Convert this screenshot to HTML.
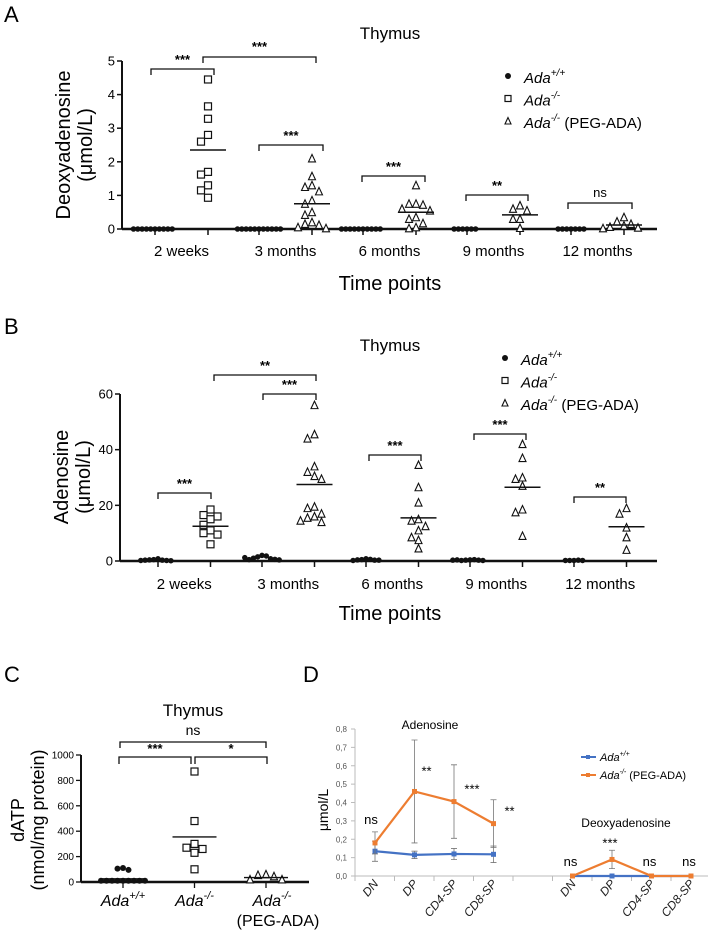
<!DOCTYPE html>
<html><head><meta charset="utf-8"><style>
body{margin:0;background:#fff;}
svg{display:block;font-family:"Liberation Sans",Arial,sans-serif;}
</style></head><body>
<svg id="fig" width="708" height="934" viewBox="0 0 708 934" xmlns="http://www.w3.org/2000/svg"></svg>
<script>
// ---------- Panel A data ----------
const groupsA = ["2 weeks","3 months","6 months","9 months","12 months"];
const wtA = [[0,0,0,0,0,0,0,0,0,0],[0,0,0,0,0,0,0,0,0,0,0],[0,0,0,0,0,0,0,0,0,0],[0,0,0,0,0,0],[0,0,0,0,0,0,0]];
const koA = [4.45,3.65,3.28,2.8,2.6,1.7,1.62,1.3,1.15,0.93];
const pegA = [[],[2.1,1.57,1.3,1.25,1.12,0.85,0.75,0.5,0.42,0.2,0.15,0.12,0.05,0.02],[1.3,0.75,0.75,0.72,0.6,0.55,0.35,0.3,0.17,0.05,0.02],[0.7,0.6,0.55,0.3,0.3,0.03],[0.35,0.22,0.15,0.1,0.06,0.04,0.02]];
const koMeanA = 2.35;
const pegMeanA = [null,0.75,0.5,0.42,0.12];
const ticksA = [0,1,2,3,4,5];
// ---------- Panel B data ----------
const groupsB = ["2 weeks","3 months","6 months","9 months","12 months"];
const wtB = [[0.8,0.5,0.3,0.4,0.2,0.3,0.1,0.2],[2,1.5,1.8,1,0.8,0.5,0.6,1.2,0.4],[0.8,0.5,0.6,0.4,0.3,0.2,0.3],[0.4,0.3,0.5,0.2,0.3,0.4,0.2,0.3],[0.2,0.2,0.3,0.2,0.2]];
const koB = [18.5,16.5,16,15,13,11,10,9.5,6];
const pegB = [[],[56,45.5,44,34,32,30.5,29.5,19.5,19,17,16,15.5,14.5,14],[34.5,26.5,21,15,14.5,12.5,11,8.5,7.5,4.5],[42,37,30,29.5,27,18.5,17.5,9],[19,17,12,8.5,4]];
const koMeanB = 12.5;
const pegMeanB = [null,27.5,15.5,26.5,12.3];
const ticksB = [0,20,40,60];
// ---------- Panel C data ----------
const catsC = ["Ada+/+","Ada-/-","Ada-/- (PEG-ADA)"];
const wtC = [110,105,95,10,10,10,10,10,10,10,10,10];
const koC = [870,480,300,270,260,230,100];
const pegC = [60,55,45,20,20];
const meansC = [25,355,35];
const ticksC = [0,200,400,600,800,1000];
// ---------- Panel D data ----------
const catsD = ["DN","DP","CD4-SP","CD8-SP"];
const adoWT = [0.135,0.115,0.12,0.118];
const adoWTerr = [0.055,0.02,0.03,0.045];
const adoPEG = [0.18,0.46,0.405,0.285];
const adoPEGerr = [0.06,0.28,0.2,0.13];
const dadoWT = [0,0,0,0];
const dadoPEG = [0,0.09,0,0];
const dadoPEGerr = [0,0.05,0,0];
const adoSig = ["ns","**","***","**"];
const dadoSig = ["ns","***","ns","ns"];
const ticksD = [0,0.1,0.2,0.3,0.4,0.5,0.6,0.7,0.8];

const NS="http://www.w3.org/2000/svg";
const svg=document.getElementById('fig');
function mk(tag,attrs,parent,text){const e=document.createElementNS(NS,tag);for(const k in attrs)e.setAttribute(k,attrs[k]);if(text!==undefined)e.textContent=text;(parent||svg).appendChild(e);return e;}
function grp(name){const g=mk('g',{});return g;}

function swarm(vals,cx,yf,d,sp){const placed=[];const xs=[];const offs=[0,-1,1,-2,2,-3,3,-4,4,-5,5,-6,6];
 vals.forEach(v=>{const y=yf(v);for(const o of offs){const x=cx+o*sp;if(!placed.some(p=>Math.abs(p[0]-x)<sp*0.9&&Math.abs(p[1]-y)<d*0.9)){placed.push([x,y]);xs.push([x,y]);break;}}});return xs;}
function marker(type,x,y,s,g,color){
 if(type==='c')return mk('circle',{cx:x,cy:y,r:s/2,fill:color||'#111'},g);
 if(type==='s')return mk('rect',{x:x-s/2,y:y-s/2,width:s,height:s,fill:'#fff',stroke:'#111','stroke-width':1.2},g);
 return mk('polygon',{points:`${x},${y-s/2-0.5} ${x-s/2},${y+s/2} ${x+s/2},${y+s/2}`,fill:'#fff',stroke:'#111','stroke-width':1.1},g);}
function bracket(x1,x2,y,h,label,ly,g,fs){mk('path',{d:`M${x1},${y+h}V${y}H${x2}V${y+h}`,fill:'none',stroke:'#111','stroke-width':1.3},g);
 mk('text',{x:(x1+x2)/2,y:ly,'text-anchor':'middle','font-size':fs||13,'font-weight':label==='ns'?'normal':'bold'},g,label);}
function legendAB(x,y0,g){const rows=[['c','+/+',''],['s','-/-',''],['t','-/-',' (PEG-ADA)']];
 rows.forEach((r,i)=>{const y=y0+i*22.5;marker(r[0],x,y-4,6,g);
  const t=mk('text',{x:x+16,y:y+3,'font-size':15},g);mk('tspan',{'font-style':'italic'},t,'Ada');mk('tspan',{'font-style':'italic','font-size':10,dy:-7},t,r[1]);mk('tspan',{dy:7},t,r[2]);});}

function scatterPanel(o){
 const g=grp(o.name);
 mk('text',{x:o.lblX,y:o.lblY,'font-size':22},g,o.letter);
 mk('text',{x:390,y:o.titleY,'text-anchor':'middle','font-size':17},g,'Thymus');
 const yl=mk('text',{transform:`translate(${o.ylX},${o.ylY}) rotate(-90)`,'text-anchor':'middle','font-size':20},g);
 mk('tspan',{x:0,dy:0},yl,o.ylab1);mk('tspan',{x:0,dy:22},yl,'(μmol/L)');
 
 const y=o.y;
 mk('line',{x1:o.ax,x2:o.ax,y1:y(o.ticks[o.ticks.length-1]),y2:y(0),stroke:'#111','stroke-width':2},g);
 mk('line',{x1:o.ax,x2:657,y1:y(0),y2:y(0),stroke:'#111','stroke-width':2.4},g);
 o.ticks.forEach(t=>{mk('line',{x1:o.ax-5,x2:o.ax,y1:y(t),y2:y(t),stroke:'#111','stroke-width':1.5},g);
  mk('text',{x:o.ax-7,y:y(t)+4.5,'text-anchor':'end','font-size':13},g,String(t));});
 o.groups.forEach((lab,i)=>{const cw=o.x(i,0),ck=o.x(i,1);
  mk('line',{x1:cw,x2:cw,y1:y(0),y2:y(0)+6,stroke:'#111','stroke-width':1.5},g);
  mk('line',{x1:ck,x2:ck,y1:y(0),y2:y(0)+6,stroke:'#111','stroke-width':1.5},g);
  mk('text',{x:(cw+ck)/2,y:o.tickY,'text-anchor':'middle','font-size':15},g,lab);
  swarm(o.wt[i],cw,y,6,4.3).forEach(p=>marker('c',p[0],p[1],5.5,g));
  const vals=i===0?o.ko:o.peg[i];const type=i===0?'s':'t';
  swarm(vals,ck,y,8,7).forEach(p=>marker(type,p[0],p[1],7,g));
  const m=i===0?o.koMean:o.pegMean[i];
  mk('line',{x1:ck-18,x2:ck+18,y1:y(m),y2:y(m),stroke:'#111','stroke-width':1.5},g);});
 mk('text',{x:390,y:o.xtY,'text-anchor':'middle','font-size':20},g,'Time points');
 legendAB(o.legX,o.legY,g);
 o.brackets.forEach(b=>bracket(b[0],b[1],b[2],6,b[3],b[4],g));
}
const yA=v=>229-v*(168/5);
const xA=(g,s)=>155+g*104+s*53;
scatterPanel({name:'panel-a',letter:'A',lblX:4,lblY:22,titleY:39,ylX:70,ylY:145,ylab1:'Deoxyadenosine',y:yA,x:xA,ax:122,ticks:ticksA,groups:groupsA,wt:wtA,ko:koA,peg:pegA,koMean:koMeanA,pegMean:pegMeanA,tickY:256,xtY:290,legX:508,legY:80,
 brackets:[[151,214,69,'***',64],[203,316,57,'***',51],[259,323,145,'***',140],[362,425,176,'***',171],[466,528,195,'**',190],[568,632,203,'ns',197]]});
const yB=v=>561-v*(167/60);
const xB=(g,s)=>158+g*104+s*52.5;
scatterPanel({name:'panel-b',letter:'B',lblX:4,lblY:334,titleY:351,ylX:68,ylY:477,ylab1:'Adenosine',y:yB,x:xB,ax:120,ticks:ticksB,groups:groupsB,wt:wtB,ko:koB,peg:pegB,koMean:koMeanB,pegMean:pegMeanB,tickY:589,xtY:620,legX:505,legY:362,
 brackets:[[158,211,493,'***',488],[214,316,375,'**',370],[263,316,394,'***',389],[369,421,455,'***',450],[474,526,434,'***',429],[574,626,497,'**',492]]});

// ---------- Panel C ----------
(function(){
 const g=grp('panel-c');
 mk('text',{x:4,y:682,'font-size':22},g,'C');
 mk('text',{x:193,y:716,'text-anchor':'middle','font-size':17},g,'Thymus');
 const yC=v=>882-v*0.127, xC=i=>123+i*71.5;
 const yl=mk('text',{transform:'translate(24,820) rotate(-90)','text-anchor':'middle','font-size':18},g);
 mk('tspan',{x:0,dy:0},yl,'dATP');mk('tspan',{x:0,dy:20},yl,'(nmol/mg protein)');
 
 mk('line',{x1:81,x2:81,y1:yC(1000),y2:yC(0),stroke:'#111','stroke-width':2},g);
 mk('line',{x1:81,x2:309,y1:yC(0),y2:yC(0),stroke:'#111','stroke-width':2.4},g);
 ticksC.forEach(t=>{mk('line',{x1:76,x2:81,y1:yC(t),y2:yC(t),stroke:'#111','stroke-width':1.3},g);
  mk('text',{x:74,y:yC(t)+3.5,'text-anchor':'end','font-size':10},g,String(t));});
 const sets=[[wtC,'c'],[koC,'s'],[pegC,'t']];
 sets.forEach((s,i)=>{const cx=xC(i);mk('line',{x1:cx,x2:cx,y1:yC(0),y2:yC(0)+6,stroke:'#111','stroke-width':1.3},g);
  swarm(s[0],cx,yC,s[1]==='c'?6.5:8,s[1]==='c'?5.5:8).forEach(p=>marker(s[1],p[0],p[1],s[1]==='c'?6:7,g));
  mk('line',{x1:cx-22,x2:cx+22,y1:yC(meansC[i]),y2:yC(meansC[i]),stroke:'#111','stroke-width':1.4},g);});
 const lab=(x,sup,extra)=>{const t=mk('text',{x:x,y:906,'text-anchor':'middle','font-size':16},g);mk('tspan',{'font-style':'italic'},t,'Ada');mk('tspan',{'font-style':'italic','font-size':11,dy:-7},t,sup);
  if(extra)mk('text',{x:x+6,y:926,'text-anchor':'middle','font-size':16},g,extra);};
 lab(xC(0),'+/+');lab(xC(1),'-/-');lab(xC(2)+6,'-/-','(PEG-ADA)');
 bracket(120,266,742,6,'ns',735,g,14);
 bracket(119,191,757,7,'***',753,g);
 bracket(195,267,757,7,'*',753,g);
})();

// ---------- Panel D ----------
(function(){
 const g=grp('panel-d');
 mk('text',{x:303,y:682,'font-size':22},g,'D');
 const yD=v=>876-v*(147/0.8), xD=s=>375+s*39.5;
 mk('text',{transform:'translate(328,810) rotate(-90)','text-anchor':'middle','font-size':14},g,'μmol/L');
 mk('line',{x1:355,x2:355,y1:yD(0.8),y2:yD(0),stroke:'#bbb','stroke-width':1},g);
 mk('line',{x1:355,x2:708,y1:yD(0),y2:yD(0),stroke:'#bbb','stroke-width':1},g);
 ticksD.forEach(t=>{mk('line',{x1:351,x2:355,y1:yD(t),y2:yD(t),stroke:'#bbb'},g);
  mk('text',{x:347,y:yD(t)+3,'text-anchor':'end','font-size':8,fill:'#555'},g,t.toFixed(1).replace('.',','));});
 for(let s=0;s<=9;s++)mk('line',{x1:355+s*39.5,x2:355+s*39.5,y1:yD(0),y2:yD(0)+5,stroke:'#bbb'},g);
 [0,5].forEach(off=>catsD.forEach((c,i)=>{const x=xD(off+i)+4,y=884;
  mk('text',{transform:`translate(${x},${y}) rotate(-50)`,'text-anchor':'end','font-size':12,'font-style':'italic',fill:'#222'},g,c);}));
 mk('text',{x:430,y:729,'text-anchor':'middle','font-size':12},g,'Adenosine');
 mk('text',{x:626,y:827,'text-anchor':'middle','font-size':12},g,'Deoxyadenosine');
 function series(vals,errs,off,color){
  const pts=vals.map((v,i)=>[xD(off+i),yD(v)]);
  if(errs)vals.forEach((v,i)=>{if(errs[i]>0){const x=pts[i][0];mk('path',{d:`M${x},${yD(v-errs[i])}V${yD(v+errs[i])}M${x-3},${yD(v-errs[i])}h6M${x-3},${yD(v+errs[i])}h6`,stroke:'#777','stroke-width':0.8,fill:'none'},g);}});
  mk('polyline',{points:pts.map(p=>p.join(',')).join(' '),fill:'none',stroke:color,'stroke-width':2.2},g);
  pts.forEach(p=>mk('rect',{x:p[0]-2.5,y:p[1]-2.5,width:5,height:5,fill:color},g));}
 series(adoWT,adoWTerr,0,'#4472c4');series(adoPEG,adoPEGerr,0,'#ed7d31');
 series(dadoWT,null,5,'#4472c4');series(dadoPEG,dadoPEGerr,5,'#ed7d31');
 const sigOff=[[-4,-8],[12,-16],[18,-8],[16,-8]];
 adoSig.forEach((s,i)=>{const x=xD(i)+sigOff[i][0];const y=i===0?yD(adoPEG[i]+adoPEGerr[i])-8:yD(adoPEG[i])+sigOff[i][1];
  mk('text',{x:x,y:y,'text-anchor':'middle','font-size':13},g,s);});
 dadoSig.forEach((s,i)=>{mk('text',{x:xD(5+i)-2,y:i===1?yD(dadoPEG[i]+dadoPEGerr[i])-3:yD(0)-10,'text-anchor':'middle','font-size':13},g,s);});
 [['#4472c4','+/+',''],['#ed7d31','-/-',' (PEG-ADA)']].forEach((r,i)=>{const y=757+i*18;
  mk('line',{x1:581,x2:596,y1:y,y2:y,stroke:r[0],'stroke-width':2},g);mk('rect',{x:586,y:y-2,width:4,height:4,fill:r[0]},g);
  const t=mk('text',{x:600,y:y+4,'font-size':11},g);mk('tspan',{'font-style':'italic'},t,'Ada');mk('tspan',{'font-style':'italic','font-size':7,dy:-5},t,r[1]);mk('tspan',{dy:5},t,r[2]);});
})();
</script>
</body></html>
